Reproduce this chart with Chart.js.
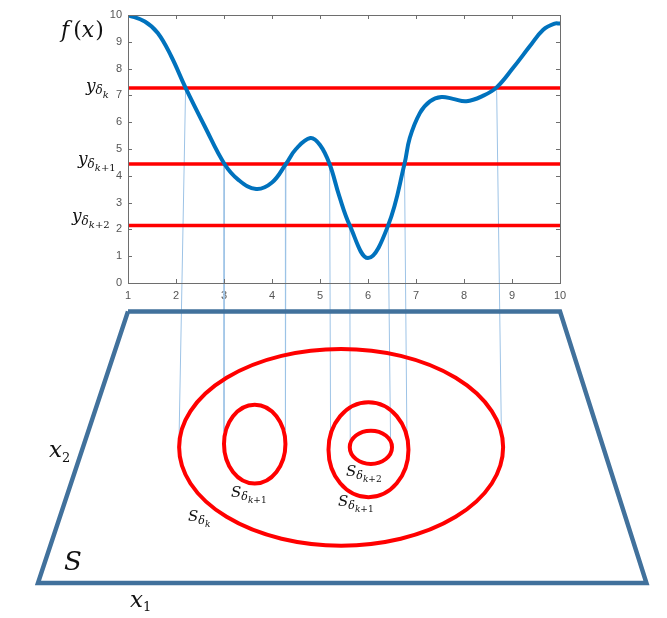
<!DOCTYPE html>
<html>
<head>
<meta charset="utf-8">
<script src="https://cdn.jsdelivr.net/npm/chart.js@4.4.1/dist/chart.umd.min.js"></script>
<style>
  body { margin: 0; background: #fff; }
</style>
</head>
<body>
<canvas id="chart" width="667" height="618"></canvas>
<script>
// f(x)
const curveX = [1, 1.35, 1.62, 1.9, 2.2, 2.6, 3.01, 3.3, 3.67, 4.0, 4.29, 4.5, 4.8, 5.0, 5.2, 5.4, 5.62, 6.0, 6.42, 6.76, 6.87, 7.08, 7.29, 7.53, 7.77, 8.05, 8.4, 8.68, 9.02, 9.37, 9.65, 9.89, 10]
const curveY = [10, 9.76, 9.33, 8.46, 7.28, 5.84, 4.44, 3.85, 3.51, 3.75, 4.44, 5.0, 5.41, 5.15, 4.44, 3.25, 2.15, 0.93, 2.15, 4.44, 5.41, 6.34, 6.78, 6.94, 6.87, 6.78, 6.99, 7.3, 8.02, 8.83, 9.45, 9.68, 9.68]

// level values y_δk, y_δk+1, y_δk+2
const levels = [7.28, 4.44, 2.15]

// thin projection lines: crossing point -> level set edge
const connFromX = [2.20, 3.01, 4.29, 5.20, 5.62, 6.42, 6.76, 8.68]
const connFromY = [7.28, 4.44, 4.44, 4.44, 2.15, 2.15, 4.44, 7.28]
const connToX = [2.06, 3.00, 4.28, 5.22, 5.63, 6.47, 6.81, 8.78]
const connToY = [-6.13, -5.54, -5.47, -5.45, -5.85, -5.85, -5.6, -5.72]

// domain S (drawn below the plot, same scales)
const regionX = [1, 10, 11.8, -0.875, 1]
const regionY = [-1.06, -1.06, -11.19, -11.19, -1.06]

// level sets S_δ as ellipses (centre and half axes in data units)
const ellipseCx = [5.44, 3.64, 6.01, 6.06]
const ellipseCy = [-6.13, -6.01, -6.22, -6.13]
const ellipseRx = [3.375, 0.64, 0.833, 0.44]
const ellipseRy = [3.67, 1.47, 1.77, 0.62]

const tickValues = [0, 1, 2, 3, 4, 5, 6, 7, 8, 9, 10]

function pts (xs, ys) {
    return xs.map((x, i) => ({ x: x, y: ys[i] }))
}

/**
 * Draws a small formula like S_{δ_k}, piece by piece.
 */
function mathText (ctx, x, y, parts) {
    parts.forEach((p) => {
        ctx.font = `${p.it ? 'italic ' : ''}${p.size}px "DejaVu Serif"`
        ctx.fillText(p.t, x, y + (p.dy || 0))
        x += ctx.measureText(p.t).width + (p.gap || 0)
    })
}

function subK (big, mid, small, tail) {
    let parts = [
        { t: big[0], size: big[1], it: true },
        { t: 'δ', size: mid, dy: mid * 0.3, it: true },
        { t: 'k', size: small, dy: mid * 0.3 + small * 0.35, it: true }
    ]
    if (tail) parts.push({ t: tail, size: small, dy: mid * 0.3 + small * 0.35 })
    return parts
}

const framePlugin = {
    id: 'frame',
    afterDatasetsDraw (chart) {
        let ctx = chart.ctx, a = chart.chartArea,
            xs = chart.scales.x, ys = chart.scales.y

        // level sets
        ctx.save()
        ctx.strokeStyle = '#ff0000'
        ctx.lineWidth = 4
        ellipseCx.forEach((cx, i) => {
            let px = xs.getPixelForValue(cx), py = ys.getPixelForValue(ellipseCy[i]),
                rx = xs.getPixelForValue(cx + ellipseRx[i]) - px,
                ry = ys.getPixelForValue(ellipseCy[i] - ellipseRy[i]) - py
            ctx.beginPath()
            ctx.ellipse(px, py, rx, ry, 0, 0, Math.PI * 2)
            ctx.stroke()
        })
        ctx.restore()

        // box with inward ticks
        ctx.save()
        ctx.strokeStyle = '#6e6e6e'
        ctx.lineWidth = 1
        ctx.strokeRect(a.left + 0.5, a.top + 0.5, a.right - a.left, a.bottom - a.top)
        ctx.beginPath()
        tickValues.forEach((v) => {
            let py = Math.round(ys.getPixelForValue(v)) + 0.5
            ctx.moveTo(a.left, py); ctx.lineTo(a.left + 4, py)
            ctx.moveTo(a.right, py); ctx.lineTo(a.right - 4, py)
        })
        tickValues.slice(1).forEach((v) => {
            let px = Math.round(xs.getPixelForValue(v)) + 0.5
            ctx.moveTo(px, a.bottom); ctx.lineTo(px, a.bottom - 4)
            ctx.moveTo(px, a.top); ctx.lineTo(px, a.top + 4)
        })
        ctx.stroke()
        ctx.restore()
    },
    afterDraw (chart) {
        let ctx = chart.ctx, ys = chart.scales.y
        ctx.save()
        ctx.fillStyle = '#111'
        ctx.textBaseline = 'alphabetic'

        mathText(ctx, 61, 37, [
            { t: 'f', size: 22, it: true, gap: 4 },
            { t: '(', size: 22 },
            { t: 'x', size: 22, it: true, gap: 1 },
            { t: ')', size: 22 }
        ])

        let ly = levels.map((v) => ys.getPixelForValue(v))
        mathText(ctx, 86, ly[0] + 3, subK(['y', 17], 12, 10))
        mathText(ctx, 78, ly[1], subK(['y', 17], 12, 10, '+1'))
        mathText(ctx, 72, ly[2] - 4, subK(['y', 17], 12, 10, '+2'))

        mathText(ctx, 188, 521, subK(['S', 15], 11, 9))
        mathText(ctx, 231, 497, subK(['S', 15], 11, 9, '+1'))
        mathText(ctx, 346, 476, subK(['S', 15], 11, 9, '+2'))
        mathText(ctx, 338, 506, subK(['S', 15], 11, 9, '+1'))

        mathText(ctx, 49, 457, [
            { t: 'x', size: 23, it: true },
            { t: '2', size: 13, dy: 5 }
        ])
        mathText(ctx, 130, 607, [
            { t: 'x', size: 23, it: true },
            { t: '1', size: 13, dy: 4 }
        ])
        mathText(ctx, 64, 570, [{ t: 'S', size: 26, it: true }])
        ctx.restore()
    }
}

let datasets = [{
    data: pts(curveX, curveY),
    showLine: true,
    borderColor: '#0072bd',
    borderWidth: 4,
    pointRadius: 0,
    tension: 0.4,
    order: 0
}]

levels.forEach((v) => {
    datasets.push({
        data: [{ x: 1, y: v }, { x: 10, y: v }],
        showLine: true,
        borderColor: '#ff0000',
        borderWidth: 3.5,
        pointRadius: 0,
        order: 1
    })
})

connFromX.forEach((x, i) => {
    datasets.push({
        data: [{ x: x, y: connFromY[i] }, { x: connToX[i], y: connToY[i] }],
        showLine: true,
        borderColor: '#9dc3e6',
        borderWidth: 1,
        pointRadius: 0,
        clip: false,
        order: 3
    })
})

datasets.push({
    data: pts(regionX, regionY),
    showLine: true,
    borderColor: '#41719c',
    borderWidth: 4.5,
    borderJoinStyle: 'miter',
    pointRadius: 0,
    clip: false,
    order: 2
})

new Chart(document.getElementById('chart').getContext('2d'), {
    type: 'scatter',
    data: { datasets: datasets },
    options: {
        responsive: false,
        animation: false,
        layout: { padding: { left: 0, top: 15, right: 107, bottom: 0 } },
        plugins: { legend: { display: false }, tooltip: { enabled: false } },
        scales: {
            x: {
                type: 'linear',
                min: 1,
                max: 10,
                grid: { display: false, drawTicks: false },
                border: { display: false },
                ticks: { stepSize: 1, padding: 6, color: '#555', font: { family: 'Liberation Sans', size: 11 } },
                afterFit: (s) => { s.height = 335 }
            },
            y: {
                min: 0,
                max: 10,
                grid: { display: false, drawTicks: false },
                border: { display: false },
                ticks: { stepSize: 1, padding: 6, color: '#555', font: { family: 'Liberation Sans', size: 11 } },
                afterFit: (s) => { s.width = 128 }
            }
        }
    },
    plugins: [framePlugin]
})
</script>
</body>
</html>
